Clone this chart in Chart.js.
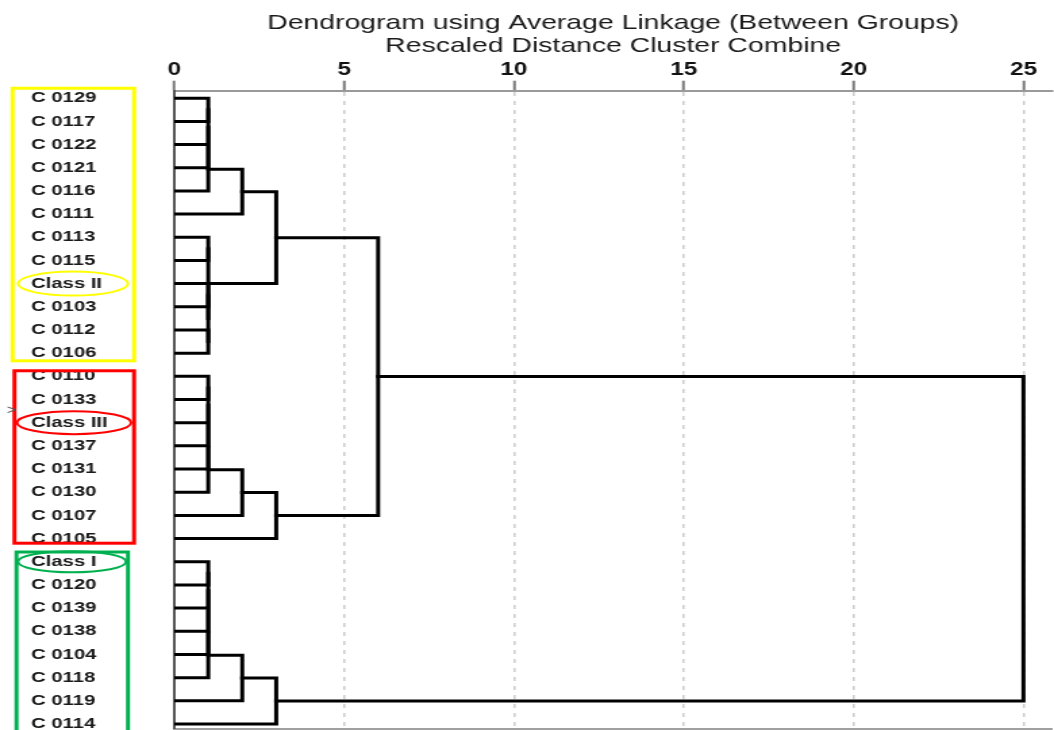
<!DOCTYPE html>
<html>
<head>
<meta charset="utf-8">
<title>Dendrogram</title>
<script src="https://cdn.jsdelivr.net/npm/chart.js@4.4.1/dist/chart.umd.min.js"></script>
<style>
  html, body { margin: 0; padding: 0; background: #fff; overflow: hidden; }
  /* the reference picture is stretched sideways, so the canvas is too */
  #wrap { width: 780px; height: 730px; transform: scaleX(1.35128); transform-origin: 0 0; }
</style>
</head>
<body>
<div id="wrap"><canvas id="chart"></canvas></div>
<script>
// -----------------------------
// DATA
// -----------------------------
// cases, top to bottom
const leafLabels = [
  "C 0129", "C 0117", "C 0122", "C 0121", "C 0116", "C 0111", "C 0113", "C 0115",
  "Class II", "C 0103", "C 0112", "C 0106",
  "C 0110", "C 0133", "Class III", "C 0137", "C 0131", "C 0130", "C 0107", "C 0105",
  "Class I", "C 0120", "C 0139", "C 0138", "C 0104", "C 0118", "C 0119", "C 0114"
];

// agglomeration schedule: cluster holding case joinA[k] joins cluster holding joinB[k]
const joinA    = [0, 0, 0, 0, 6, 8, 10, 8, 6, 12, 12, 12, 12, 12, 20, 20, 20, 20, 20, 0, 12, 20, 0, 12, 20, 0, 0];
const joinB    = [1, 2, 3, 4, 7, 9, 11, 10, 8, 13, 14, 15, 16, 17, 21, 22, 23, 24, 25, 5, 18, 26, 6, 19, 27, 12, 20];
const joinDist = [1, 1, 1, 1, 1, 1, 1, 1, 1, 1, 1, 1, 1, 1, 1, 1, 1, 1, 1, 2, 2, 2, 3, 3, 3, 6, 25];

const distTicks = [0, 5, 10, 15, 20, 25];

const classNames = ["Class II", "Class III", "Class I"];

// -----------------------------
// BUILD TREE SEGMENTS
// -----------------------------
const nodes = leafLabels.map((_, i) => ({ row: i, dist: 0 }));
let clusterOf = leafLabels.map((_, i) => i);
const segments = [];

joinA.forEach((a, k) => {
  const ca = clusterOf[a];
  const cb = clusterOf[joinB[k]];
  const na = nodes[ca], nb = nodes[cb];
  const d = joinDist[k];
  segments.push([
    { x: na.dist, y: na.row },
    { x: d, y: na.row },
    { x: d, y: nb.row },
    { x: nb.dist, y: nb.row }
  ]);
  nodes.push({ row: (na.row + nb.row) / 2, dist: d });
  const id = nodes.length - 1;
  clusterOf = clusterOf.map(c => (c === ca || c === cb) ? id : c);
});

// -----------------------------
// ANNOTATIONS (coloured frames and rings)
// -----------------------------
const frameStyle = [
  { first: 0, last: 11, color: "#ffff00", left: 9.3, right: 99.2, padTop: 0.43, padBottom: 0.33 },
  { first: 12, last: 19, color: "#ff0000", left: 10.7, right: 99.2, padTop: 0.24, padBottom: 0.2 },
  { first: 20, last: 27, color: "#00b050", left: 12.2, right: 94.7, padTop: 0.42, padBottom: 1.0 }
];
const ringStyle = [
  { color: "#ffff00", cx: 54, rx: 40.7, ry: 12 },
  { color: "#ff0000", cx: 54.8, rx: 42.2, ry: 11.5 },
  { color: "#00b050", cx: 53.3, rx: 40, ry: 10.5 }
];

const groupsPlugin = {
  id: "groups",
  afterDraw(chart) {
    const { ctx, scales: { y } } = chart;
    ctx.save();
    frameStyle.forEach(f => {
      const top = y.getPixelForValue(f.first - f.padTop);
      const bottom = y.getPixelForValue(f.last + f.padBottom);
      ctx.strokeStyle = f.color;
      ctx.lineWidth = 3;
      ctx.strokeRect(f.left, top, f.right - f.left, bottom - top);
    });
    classNames.forEach((name, i) => {
      const r = ringStyle[i];
      const cy = y.getPixelForValue(leafLabels.indexOf(name));
      ctx.strokeStyle = r.color;
      ctx.lineWidth = 2;
      ctx.beginPath();
      ctx.ellipse(r.cx, cy, r.rx, r.ry, 0, 0, Math.PI * 2);
      ctx.stroke();
    });
    // small mark left of Class III
    ctx.fillStyle = "#555";
    ctx.font = "12px 'Liberation Sans'";
    ctx.textAlign = "left";
    ctx.textBaseline = "middle";
    ctx.fillText(">", 5, y.getPixelForValue(13.5));
    ctx.restore();
  }
};

// -----------------------------
// CHART
// -----------------------------
const X_MAX = 25.84;

new Chart(document.getElementById("chart"), {
  type: "scatter",
  data: {
    datasets: segments.map(seg => ({
      data: seg,
      showLine: true,
      borderColor: "#000",
      borderWidth: 3,
      borderJoinStyle: "miter",
      borderCapStyle: "square",
      pointRadius: 0,
      pointHoverRadius: 0,
      fill: false,
      tension: 0
    }))
  },
  options: {
    responsive: true,
    maintainAspectRatio: false,
    animation: false,
    layout: { padding: { left: 23, right: 0, top: 0, bottom: 1.5 } },
    plugins: {
      legend: { display: false },
      tooltip: { enabled: false },
      title: {
        display: true,
        fullSize: false,
        text: ["Dendrogram using Average Linkage (Between Groups)", "Rescaled Distance Cluster Combine"],
        color: "#1a1a1a",
        font: { family: "'Liberation Sans', Arial", size: 21, weight: "normal", lineHeight: 1.1 },
        padding: { top: 12, bottom: 0.9 }
      }
    },
    scales: {
      x: {
        type: "linear",
        position: "top",
        min: 0,
        max: X_MAX,
        ticks: {
          stepSize: 5,
          includeBounds: false,
          padding: 0,
          maxRotation: 0,
          color: "#111",
          font: { family: "'Liberation Sans', Arial", size: 18, weight: "bold" },
          callback: v => distTicks.includes(v) ? String(v) : ""
        },
        grid: {
          color: c => (c.tick && c.tick.value === 0) ? "rgba(0,0,0,0)" : "#cccccc",
          lineWidth: 1.5,
          tickLength: 10,
          tickColor: "#7a7a7a",
          tickWidth: 2
        },
        border: { color: "#9a9a9a", width: 2, dash: [4, 5] },
        afterFit: s => { s.height = 31.6; }
      },
      xb: {
        type: "linear",
        position: "bottom",
        min: 0,
        max: X_MAX,
        ticks: { display: false },
        grid: { display: false, drawTicks: false },
        border: { display: true, color: "#a0a0a0", width: 2 },
        afterFit: s => { s.height = 0; s.paddingLeft = 0; s.paddingRight = 0; }
      },
      y: {
        type: "linear",
        reverse: true,
        min: -0.324,
        max: 27.195,
        ticks: {
          stepSize: 1,
          autoSkip: false,
          includeBounds: false,
          crossAlign: "far",
          padding: 0,
          color: "#1a1a1a",
          font: { family: "'Liberation Sans', Arial", size: 15, weight: "bold" },
          callback: v => (Number.isInteger(v) && leafLabels[v]) ? leafLabels[v] : ""
        },
        grid: { display: false, drawTicks: false },
        border: { display: true, color: "#555", width: 2 },
        afterFit: s => { s.width = 106; s.paddingTop = 0; s.paddingBottom = 0; }
      }
    }
  },
  plugins: [groupsPlugin]
});
</script>
</body>
</html>
